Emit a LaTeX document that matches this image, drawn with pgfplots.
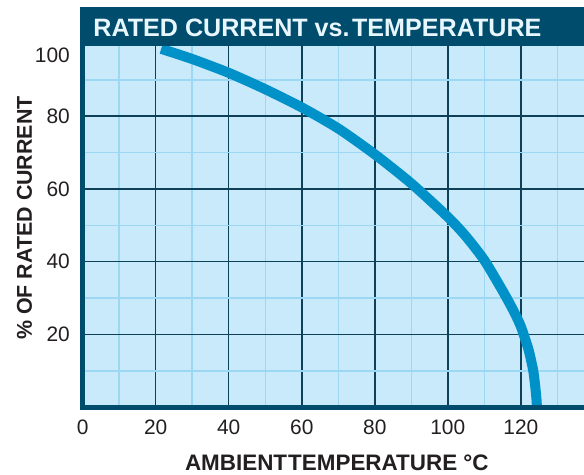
\documentclass[border=0pt]{standalone}
\usepackage{pgfplots}
\pgfplotsset{compat=1.18}
\usepackage{fontspec}
\setmainfont{Liberation Sans}

\definecolor{bgblue}{HTML}{C8EAFA}
\definecolor{minorgrid}{HTML}{9CD8F4}
\definecolor{majorgrid}{HTML}{0E4058}
\definecolor{barteal}{HTML}{004C6C}
\definecolor{curveblue}{HTML}{0091C8}
\definecolor{txt}{HTML}{231F20}
\definecolor{titletxt}{HTML}{E8F6FD}

\begin{document}
\begin{tikzpicture}
\useasboundingbox (0,0) rectangle (584bp,475bp);
\begin{axis}[
  at={(82.7bp,67.8bp)}, anchor=south west,
  scale only axis,
  width=501.3bp, height=400.2bp,
  xmin=0, xmax=137.3,
  ymin=0, ymax=110,
  clip=false,
  axis background/.style={fill=bgblue},
  axis line style={draw=none},
  xtick={0,20,...,120},
  ytick={20,40,60,80},
  extra y ticks={96.7},
  extra y tick labels={100},
  extra y tick style={grid=none},
  minor xtick={10,30,...,130},
  minor ytick={10,30,...,90},
  grid=both,
  major grid style={majorgrid, line width=1.5bp},
  minor grid style={minorgrid, line width=1.5bp},
  major tick length=0pt, minor tick length=0pt,
  /pgf/number format/assume math mode=true,
  tick label style={txt, font=\fontsize{21}{21}\selectfont, inner sep=0pt},
  xticklabel style={anchor=center, yshift=-20.5bp},
  yticklabel style={anchor=east, xshift=-12.7bp},
]
\addplot[curveblue, line width=10bp, smooth, tension=0.4] coordinates {
  (21.5,98.5) (30,95.7) (40,91.9) (50,87.4) (60,82.4) (70,76.6)
  (80,69.5) (90,61.5) (100,52.3) (105,46.9) (110,40.4) (115,32.0)
  (118,26.5) (120,22.2) (122,16.2) (123,12.0) (123.5,9.4) (124,5.2)
  (124.3,2.0) (124.4,0)
};
% title bar
\fill[barteal] ([xshift=-2.5bp]axis cs:0,99.4) rectangle (axis cs:137.3,110);
\node[anchor=base west, inner sep=0pt, titletxt, font=\bfseries\fontsize{25.2}{25.2}\selectfont]
  at (axis cs:2.9,102.0) {RATED CURRENT vs.\hspace{0.1em}TEMPERATURE};
% axis lines
\draw[barteal, line width=5bp] (axis cs:0,99.4) -- (axis cs:0,0) -- (axis cs:137.3,0);
% axis labels
\node[anchor=base, inner sep=0pt, txt, font=\bfseries\fontsize{22.5}{22.5}\selectfont]
  at (axis cs:69.6,-17.3) {AMBIENT\hspace{0.05em}TEMPERATURE °C};
\node[anchor=base, rotate=90, inner sep=0pt, txt, font=\bfseries\fontsize{21.5}{21.5}\selectfont]
  at (axis cs:-13.9,52.0) {\% OF RATED CURRENT};
\end{axis}
\end{tikzpicture}
\end{document}
